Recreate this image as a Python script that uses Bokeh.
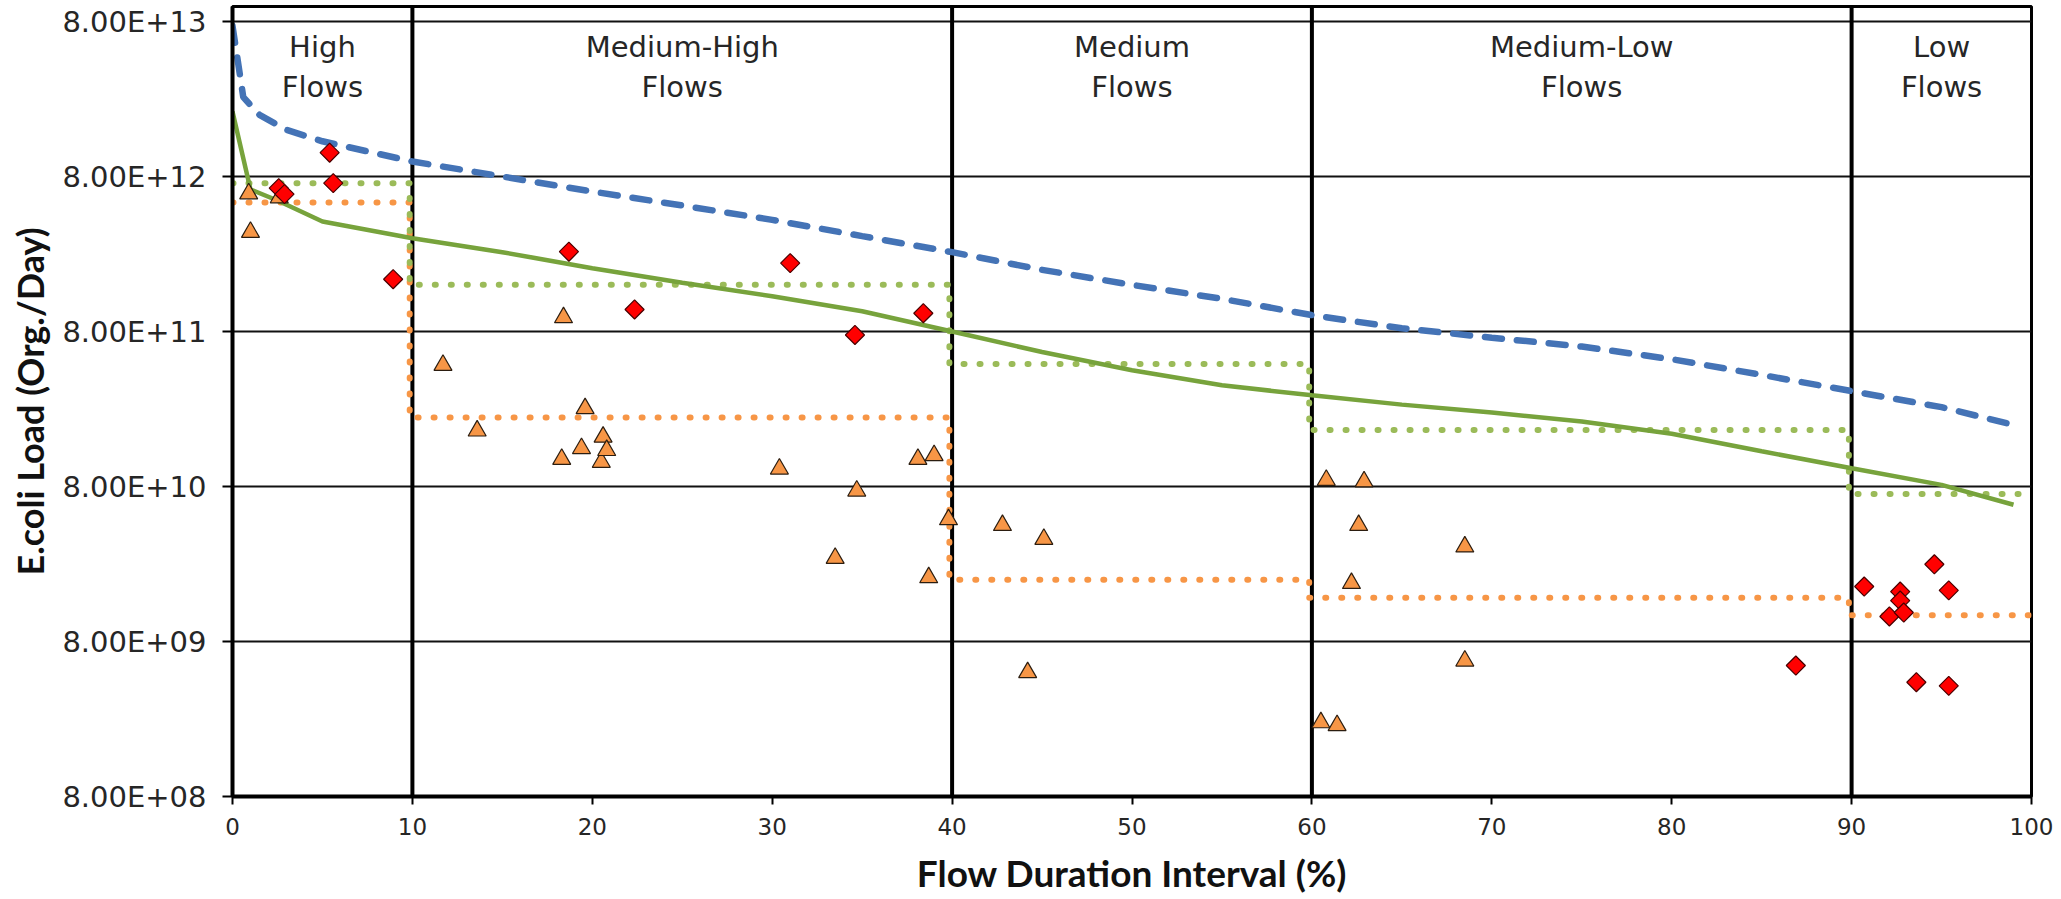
import math
from bokeh.plotting import figure
from bokeh.models import FixedTicker, Range1d
from bokeh.core.properties import value
from bokeh.embed import file_html
from bokeh.resources import INLINE

# ---------------- data ----------------
# flow regime boundaries (flow duration interval, %) and labels
regime_bounds = [0, 10, 40, 60, 90, 100]
regime_labels = ["High\nFlows", "Medium-High\nFlows", "Medium\nFlows",
                 "Medium-Low\nFlows", "Low\nFlows"]

# blue dashed curve
blue_x = [0, 0.6, 1.5, 3, 5, 10, 15, 20, 25, 30, 35, 40, 45, 50, 55, 60,
          65, 70, 75, 80, 85, 90, 95, 99]
blue_y = [7.5e13, 2.6e13, 2.0e13, 1.6e13, 1.35e13, 1.0e13, 8.0e12, 6.4e12,
          5.2e12, 4.2e12, 3.3e12, 2.6e12, 2.0e12, 1.6e12, 1.3e12, 1.02e12,
          8.4e11, 7.3e11, 6.4e11, 5.3e11, 4.2e11, 3.3e11, 2.6e11, 2.0e11]

# green solid curve
green_x = [0, 1, 2.5, 5, 10, 15, 20, 25, 30, 35, 40, 45, 50, 55, 60, 65,
           70, 75, 80, 85, 90, 95, 99]
green_y = [2.1e13, 6.6e12, 5.6e12, 4.1e12, 3.2e12, 2.6e12, 2.05e12, 1.65e12,
           1.35e12, 1.08e12, 8.0e11, 5.9e11, 4.5e11, 3.6e11, 3.1e11, 2.7e11,
           2.4e11, 2.1e11, 1.75e11, 1.35e11, 1.05e11, 8.2e10, 6.1e10]

# green dotted step values (one per regime)
green_step = [7.25e12, 1.6e12, 4.93e11, 1.85e11, 7.15e10]
# orange dotted step values (one per regime)
orange_step = [5.43e12, 2.23e11, 2.0e10, 1.53e10, 1.18e10]

# orange triangles
tri_x = [0.9, 1.0, 2.6, 11.7, 13.6, 18.3, 18.4, 19.4, 19.6, 20.5, 20.6, 20.8,
         30.4, 33.5, 34.7, 38.1, 38.7, 39.0, 39.8, 42.8, 44.2, 45.1, 60.5,
         60.8, 61.4, 62.2, 62.6, 62.9, 68.5, 68.5]
tri_y = [6.2e12, 3.5e12, 5.85e12, 4.85e11, 1.83e11, 1.2e11, 9.85e11, 1.41e11,
         2.55e11, 1.15e11, 1.67e11, 1.37e11, 1.04e11, 2.76e10, 7.5e10, 1.2e11,
         2.07e10, 1.27e11, 4.9e10, 4.5e10, 5.05e9, 3.66e10, 2.4e9, 8.8e10,
         2.3e9, 1.9e10, 4.5e10, 8.6e10, 3.27e10, 6.0e9]

# red diamonds
dia_x = [2.57, 2.89, 5.4, 5.6, 8.93, 18.7, 22.35, 31.0, 34.6, 38.4, 86.9,
         90.7, 92.1, 92.7, 92.7, 92.9, 93.6, 94.6, 95.4, 95.4]
dia_y = [6.73e12, 6.16e12, 1.14e13, 7.25e12, 1.74e12, 2.62e12, 1.11e12,
         2.21e12, 7.6e11, 1.05e12, 5.6e9, 1.81e10, 1.16e10, 1.68e10, 1.47e10,
         1.23e10, 4.37e9, 2.52e10, 1.71e10, 4.14e9]

# axes
x_ticks = [0, 10, 20, 30, 40, 50, 60, 70, 80, 90, 100]
y_ticks = [8e8, 8e9, 8e10, 8e11, 8e12, 8e13]
y_tick_labels = ["8.00E+08", "8.00E+09", "8.00E+10", "8.00E+11",
                 "8.00E+12", "8.00E+13"]
x_title = "Flow Duration Interval (%)"
y_title = "E.coli Load (Org./Day)"

# ---------------- figure ----------------
Y0, Y1 = 8e8, 1.0e14
p = figure(width=2055, height=899, output_backend="svg", toolbar_location=None,
           y_axis_type="log", x_range=Range1d(0, 100), y_range=Range1d(Y0, Y1),
           min_border_left=232, min_border_right=24, min_border_top=6,
           min_border_bottom=103)
p.background_fill_color = "white"
p.border_fill_color = "white"
p.outline_line_color = "black"
p.outline_line_width = 3

# grid
p.xgrid.visible = False
p.ygrid.grid_line_color = "#111111"
p.ygrid.grid_line_width = 2
p.ygrid.ticker = FixedTicker(ticks=y_ticks)

# axes
p.xaxis.ticker = FixedTicker(ticks=x_ticks)
p.yaxis.ticker = FixedTicker(ticks=y_ticks)
p.yaxis.major_label_overrides = dict(zip(y_ticks, y_tick_labels))
for ax in (p.xaxis[0], p.yaxis[0]):
    ax.axis_line_color = "black"
    ax.axis_line_width = 4
    ax.major_tick_line_color = "black"
    ax.major_tick_line_width = 2
    ax.major_tick_in = 0
    ax.minor_tick_line_color = None
    ax.major_label_text_font = "DejaVu Sans"
    ax.major_label_text_color = "#262626"
    ax.axis_label_text_font = "Lato"
    ax.axis_label_text_font_style = "bold"
    ax.axis_label_text_color = "#111111"
p.yaxis.major_tick_out = 10
p.yaxis.major_label_standoff = 16
p.yaxis.major_label_text_font_size = "29px"
p.xaxis.major_tick_out = 8
p.xaxis.major_label_standoff = 13
p.xaxis.major_label_text_font_size = "23px"

p.xaxis.axis_label = x_title
p.xaxis.axis_label_text_font_size = "37px"
p.xaxis.axis_label_standoff = 12
p.yaxis.axis_label = y_title
p.yaxis.axis_label_text_font_size = "36px"
p.yaxis.axis_label_standoff = 7

# regime divider lines (drawn first so the curves sit on top)
inner = regime_bounds[1:-1]
p.segment(x0=inner, x1=inner, y0=[Y0] * len(inner), y1=[Y1] * len(inner),
          line_color="black", line_width=4)

# step lines
def step_path(bounds, vals, shift=-0.15):
    xs, ys = [], []
    n = len(vals)
    for i in range(n):
        xa = bounds[i] if i == 0 else bounds[i] + shift
        xb = bounds[i + 1] if i == n - 1 else bounds[i + 1] + shift
        xs += [xa, xb]
        ys += [vals[i], vals[i]]
    return xs, ys

gx, gy = step_path(regime_bounds, green_step)
ox, oy = step_path(regime_bounds, orange_step)
p.line(ox, oy, line_color="#F79646", line_width=6, line_dash="1 15",
       line_cap="round")
p.line(gx, gy, line_color="#9BBB59", line_width=6, line_dash="1 15",
       line_cap="round")

# curves
p.line(green_x, green_y, line_color="#77A33C", line_width=4.5)
p.line(blue_x, blue_y, line_color="#4473B6", line_width=6.5, line_dash="17 15",
       line_cap="round")

# markers
p.scatter(tri_x, tri_y, marker="triangle", size=18, fill_color="#F79646",
          line_color="#2b1d10", line_width=1.2)
p.scatter(dia_x, dia_y, marker="square", angle=math.pi / 4, size=13.5,
          fill_color="#FF0000", line_color="#4a0000", line_width=1.2)

# regime labels
mids = [(regime_bounds[i] + regime_bounds[i + 1]) / 2 for i in range(len(regime_labels))]
p.text(x=mids, y=[Y1] * len(mids), text=regime_labels, text_align="center",
       text_baseline="top", y_offset=23, text_font=value("DejaVu Sans"),
       text_font_size="29px", text_line_height=1.2, text_color="#262626")

open("out.html", "w").write(file_html(p, INLINE))
